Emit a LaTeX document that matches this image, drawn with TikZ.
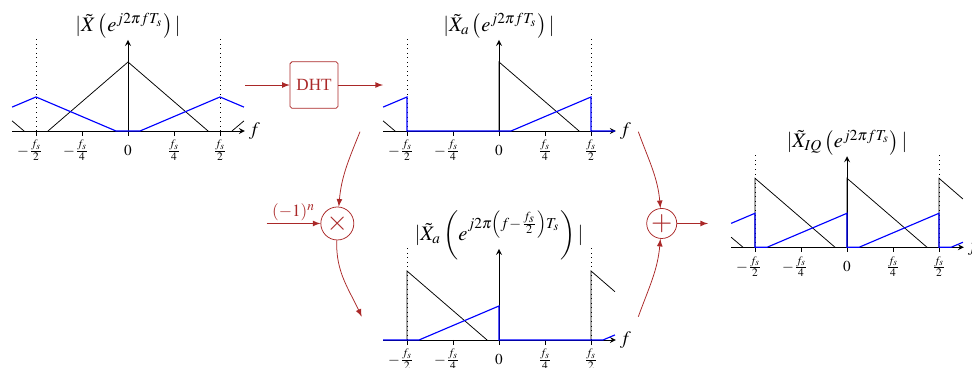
\documentclass[tikz,border=0pt]{standalone}
\usepackage{amsmath}
\usepackage{mathptmx}
\usepackage{fontspec}
\setmainfont{Liberation Serif}
\usepackage{tikz}
\usetikzlibrary{arrows, calc, positioning}
\definecolor{opred}{RGB}{170,40,40}

\begin{document}
\begin{tikzpicture}[x=0.85cm, y=0.85cm,
    axis/.style={-stealth, thin},
    img/.style={blue, line width=0.6pt},
    title/.style={font=\fontsize{10.8}{13}\selectfont},
    op/.style={circle, draw=opred, text=opred, inner sep=0pt},
    flow/.style={-latex, opred, thin}]
    \useasboundingbox (0,0) rectangle (21.13,7.978);

    % axes, ticks and tick labels of the four spectra
    \foreach \p/\ox/\oy in {a/2.783/5.130, b/10.848/5.130, c/10.848/0.587, d/18.413/2.602} {
        \begin{scope}[shift={(\ox,\oy)}]
            \draw[dotted] (-2,0) -- (-2,2);
            \draw[dotted] (2,0) -- (2,2);
            \foreach \i/\t/\lab in {1/-2/{\llap{$-$}$\frac{f_s}{2}$}, 2/-1/{\llap{$-$}$\frac{f_s}{4}$},
                    3/0/$0$, 4/1/$\frac{f_s}{4}$, 5/2/$\frac{f_s}{2}$} {
                \draw (\t,0) -- (\t,-0.1);
                \node[font=\footnotesize] (\p l\i) at (\t,-0.42) {\lab};
            }
            \draw[axis] (-2.52,0) -- (2.54,0) node[right, inner sep=2pt] (\p f) {$f$};
            \draw[axis] (0,0) -- (0,1.98);
        \end{scope}
    }

    % input spectrum
    \begin{scope}[shift={(2.783,5.130)}]
        \node[title] (xt) at (0,2.28) {$|\tilde{X}\left(e^{j2\pi fT_s}\right)|$};
        \draw (-2.52,0.22) -- (-2.26,0);
        \draw (-1.74,0) -- (0,1.5) -- (1.74,0);
        \draw (2.26,0) -- (2.52,0.22);
        \draw[img] (-2.52,0.52) -- (-2,0.74) -- (-0.26,0) -- (0.26,0) -- (2,0.74) -- (2.52,0.52);
    \end{scope}

    % analytic signal
    \begin{scope}[shift={(10.848,5.130)}]
        \node[title] (xat) at (0,2.28) {$|\tilde{X}_a\left(e^{j2\pi fT_s}\right)|$};
        \draw (-2.52,0.22) -- (-2.26,0);
        \draw (0,0) -- (0,1.5) -- (1.74,0);
        \draw[img] (-2.52,0.52) -- (-2,0.74) -- (-2,0) -- (0.26,0) -- (2,0.74) -- (2,0) -- (2.52,0);
    \end{scope}

    % analytic signal shifted by fs/2
    \begin{scope}[shift={(10.848,0.587)}]
        \node[title] (xst) at (0,2.28) {$|\tilde{X}_a\left(e^{j2\pi\left(f-\frac{f_s}{2}\right)T_s}\right)|$};
        \draw (-2,0) -- (-2,1.5) -- (-0.26,0);
        \draw (2,0) -- (2,1.5) -- (2.52,1.05);
        \draw[img] (-2.52,0) -- (-1.74,0) -- (0,0.74) -- (0,0) -- (2.26,0) -- (2.52,0.11);
    \end{scope}

    % IQ output
    \begin{scope}[shift={(18.413,2.602)}]
        \node[title] (xiqt) at (0,2.28) {$|\tilde{X}_{IQ}\left(e^{j2\pi fT_s}\right)|$};
        \draw (-2.52,0.22) -- (-2.26,0);
        \draw (-2,0) -- (-2,1.5) -- (-0.26,0);
        \draw (0,0) -- (0,1.5) -- (1.74,0);
        \draw (2,0) -- (2,1.5) -- (2.52,1.05);
        \draw[img] (-2.52,0.52) -- (-2,0.74) -- (-2,0) -- (-1.74,0) -- (0,0.74) -- (0,0)
            -- (0.26,0) -- (2,0.74) -- (2,0) -- (2.26,0) -- (2.52,0.11);
    \end{scope}

    % operators
    \node[draw=opred, text=opred, minimum size=0.86cm, rounded corners=1pt] (dht) at (6.826,6.130) {\small DHT};
    \node[op, minimum size=0.61cm] (mul) at (7.333,3.12) {\Large$\times$};
    \node[op, minimum size=0.555cm] (add) at (14.385,3.12) {\Large$+$};

    \coordinate (xin) at (5.33,6.13);
    \coordinate (xaout) at (8.326,6.13);
    \coordinate (sgn) at (5.797,3.12);
    \coordinate (xaq) at (7.826,5.115);
    \coordinate (xsq) at (7.863,1.093);
    \coordinate (xar) at (13.876,5.115);
    \coordinate (xsr) at (13.876,1.093);
    \coordinate (iqin) at (15.391,3.12);

    \draw[flow] (xin) -- (dht);
    \draw[flow] (dht) -- (xaout);
    \draw[flow] (sgn) -- (mul) node[midway, above, inner sep=1pt, text=opred] (sgnl) {\small$(-1)^n$};
    \draw[flow] (xaq) to[out=-112, in=85] (mul);
    \draw[flow] (mul) to[out=-92, in=115] (xsq);
    \draw[flow] (xar) to[out=-70, in=95] (add);
    \draw[flow] (xsr) to[out=70, in=-95] (add);
    \draw[flow] (add) -- (iqin);
\end{tikzpicture}
\end{document}
